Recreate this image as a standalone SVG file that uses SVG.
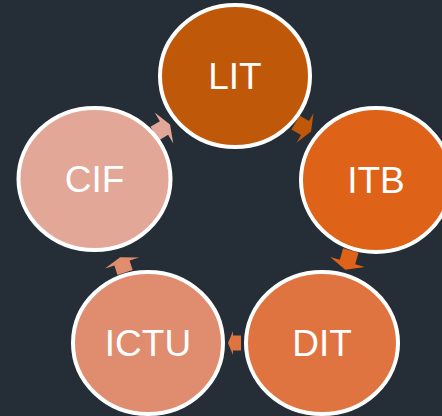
<svg xmlns="http://www.w3.org/2000/svg" width="442" height="416" viewBox="0 0 442 416">
<style>
.node ellipse{stroke:#ffffff;stroke-width:4}
.node text{font-family:"Liberation Sans",Arial,sans-serif;font-size:37px;fill:#ffffff;text-anchor:middle}
</style>
<rect width="442" height="416" fill="#252d36"/>
<g id="connectors">
<path fill="#c0580a" transform="translate(305,128) rotate(30)" d="M-11,-8 H0 V-17 L7,0 L0,17 V8 H-11 Z"/>
<path fill="#de6218" transform="translate(347.5,262) rotate(106)" d="M-12,-8 H0 V-18 L8,0 L0,18 V8 H-12 Z"/>
<path fill="#e07441" transform="translate(233,343) rotate(180)" d="M-8,-7.5 H0 V-12 L5,0 L0,12 V7.5 H-8 Z"/>
<path fill="#e08c6e" transform="translate(122,263) rotate(252)" d="M-10,-8 H0 V-18 L6,0 L0,18 V8 H-10 Z"/>
<path fill="#e3a797" transform="translate(164,128) rotate(329)" d="M-11,-8 H0 V-18 L7,0 L0,18 V8 H-11 Z"/>
</g>
<g id="LIT" class="node"><ellipse cx="235" cy="76" rx="75" ry="71" fill="#c0580a"/><text x="235" y="89">LIT</text></g>
<g id="ITB" class="node"><ellipse cx="376" cy="180" rx="75" ry="72" fill="#de6218"/><text x="376" y="193">ITB</text></g>
<g id="DIT" class="node"><ellipse cx="322" cy="343" rx="76" ry="71" fill="#e07441"/><text x="322" y="356">DIT</text></g>
<g id="ICTU" class="node"><ellipse cx="148" cy="343" rx="75" ry="71" fill="#e08c6e"/><text x="148" y="356">ICTU</text></g>
<g id="CIF" class="node"><ellipse cx="94.5" cy="179" rx="76" ry="71" fill="#e3a797"/><text x="94.5" y="192">CIF</text></g>
</svg>
